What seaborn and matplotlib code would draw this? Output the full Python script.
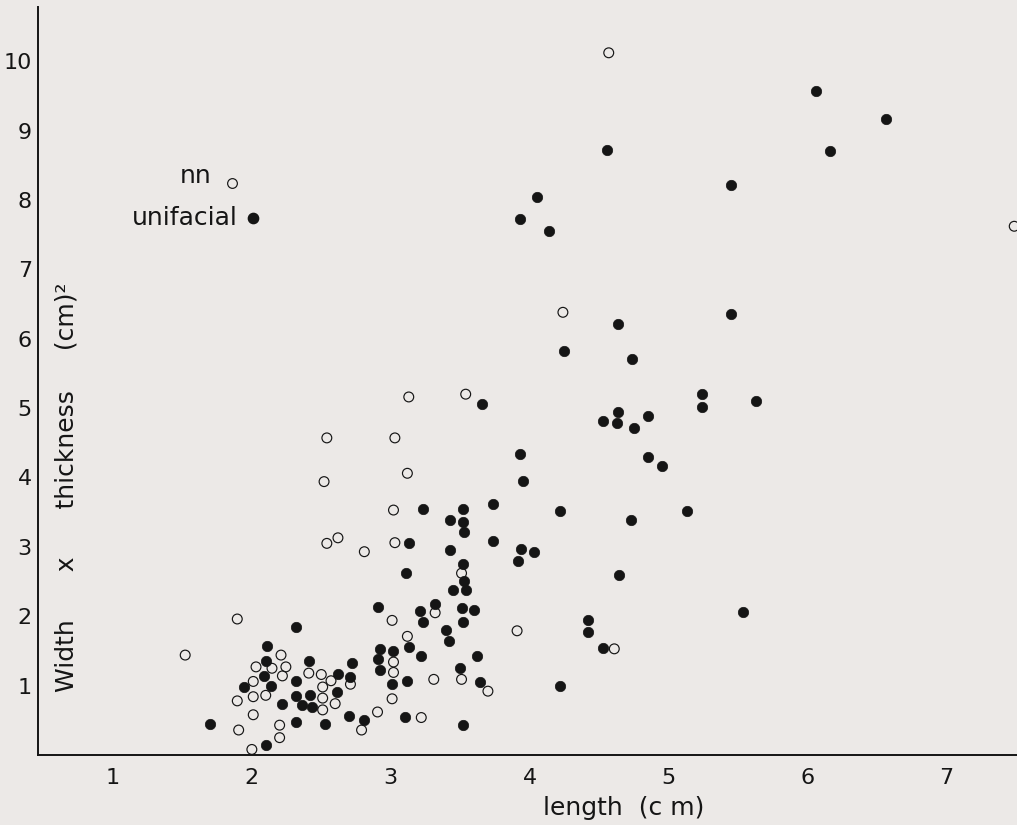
import matplotlib
matplotlib.use("Agg")
import matplotlib.pyplot as plt
import seaborn as sns

# Flake tools: length against width x thickness
nn_length = [1.52, 1.895, 1.895, 1.905, 2.00, 2.01, 2.01, 2.01, 2.03, 2.10,
             2.145, 2.20, 2.20, 2.21, 2.22, 2.245, 2.41, 2.50, 2.51, 2.51,
             2.51, 2.57, 2.60, 2.71, 2.79, 2.905, 3.01, 3.02, 3.02, 3.01,
             3.12, 3.22, 3.31, 3.32, 3.51, 3.51, 3.70, 3.91, 2.52, 2.54,
             2.62, 2.81, 3.03, 3.02, 3.12, 2.54, 3.03, 3.13, 3.54, 4.24,
             4.61, 4.57, 7.49]
nn_area = [1.44, 1.96, 0.78, 0.36, 0.08, 1.06, 0.84, 0.58, 1.27, 0.86,
           1.25, 0.43, 0.25, 1.44, 1.14, 1.27, 1.18, 1.16, 0.98, 0.82,
           0.65, 1.07, 0.74, 1.02, 0.36, 0.62, 1.94, 1.34, 1.19, 0.81,
           1.71, 0.54, 1.09, 2.05, 2.62, 1.09, 0.92, 1.79, 3.94, 3.05,
           3.13, 2.93, 3.06, 3.53, 4.06, 4.57, 4.57, 5.16, 5.20, 6.38,
           1.53, 10.12, 7.62]

uni_length = [1.70, 1.945, 2.09, 2.10, 2.11, 2.135, 2.10, 2.22, 2.32, 2.32,
              2.32, 2.32, 2.36, 2.41, 2.42, 2.43, 2.53, 2.61, 2.62, 2.70,
              2.71, 2.72, 2.81, 2.91, 2.92, 2.91, 2.92, 3.01, 3.02, 3.10,
              3.12, 3.13, 3.22, 3.23, 3.21, 3.32, 3.40, 3.42, 3.50, 3.52,
              3.51, 3.60, 3.62, 3.64, 3.52, 3.45, 3.54, 3.53, 3.52, 3.11,
              3.13, 3.43, 3.23, 3.43, 3.52, 3.53, 3.52, 3.74, 3.74, 3.92,
              3.94, 4.03, 3.95, 3.93, 3.66, 4.22, 4.22, 4.42, 4.42, 4.53,
              4.645, 4.73, 4.85, 4.95, 4.75, 4.63, 4.53, 4.64, 4.85, 5.13,
              5.24, 5.245, 5.63, 5.54, 4.245, 4.64, 4.74, 5.45, 3.93, 4.05,
              4.14, 4.56, 5.45, 6.16, 6.06, 6.57]
uni_area = [0.45, 0.98, 1.14, 1.35, 1.57, 1.00, 0.14, 0.74, 1.85, 1.07,
            0.85, 0.47, 0.72, 1.36, 0.86, 0.69, 0.44, 0.91, 1.17, 0.56,
            1.13, 1.33, 0.50, 2.14, 1.53, 1.38, 1.22, 1.02, 1.50, 0.55,
            1.06, 1.56, 1.42, 1.92, 2.08, 2.18, 1.80, 1.64, 1.26, 1.92,
            2.12, 2.09, 1.42, 1.05, 0.43, 2.38, 2.38, 2.51, 2.75, 2.63,
            3.05, 2.95, 3.54, 3.39, 3.36, 3.21, 3.55, 3.62, 3.08, 2.79,
            2.97, 2.92, 3.95, 4.34, 5.06, 3.52, 0.99, 1.94, 1.77, 1.54,
            2.60, 3.38, 4.30, 4.17, 4.71, 4.78, 4.82, 4.94, 4.89, 3.51,
            5.01, 5.20, 5.10, 2.06, 5.82, 6.21, 5.71, 6.36, 7.72, 8.04,
            7.55, 8.72, 8.21, 8.70, 9.57, 9.16]

x_ticks = [1, 2, 3, 4, 5, 6, 7]
y_ticks = [1, 2, 3, 4, 5, 6, 7, 8, 9, 10]

bg = "#ece9e7"
ink = "#151515"

sns.set_theme(style="white")
plt.rcParams["font.family"] = ["DejaVu Sans"]

fig = plt.figure(figsize=(10.17, 8.25), dpi=100, facecolor=bg)
ax = fig.add_axes([38 / 1017, 70 / 825, 979 / 1017, 748 / 825])
ax.set_facecolor(bg)

sns.scatterplot(x=nn_length, y=nn_area, ax=ax, s=50, facecolor="none",
                edgecolor=ink, linewidth=0.85, zorder=3, clip_on=True)
sns.scatterplot(x=uni_length, y=uni_area, ax=ax, s=56, color=ink,
                edgecolor=ink, linewidth=0.5, zorder=3)

ax.set_xlim(0.46, 7.51)
ax.set_ylim(0.0, 10.78)
ax.set_xticks(x_ticks)
ax.set_yticks(y_ticks)
ax.set_xticklabels([str(v) for v in x_ticks])
ax.set_yticklabels([str(v) for v in y_ticks])

for side in ("top", "right"):
    ax.spines[side].set_visible(False)
for side in ("left", "bottom"):
    ax.spines[side].set_color(ink)
    ax.spines[side].set_linewidth(1.4)

ax.tick_params(axis="both", direction="inout", length=5, width=1.0,
               color=ink, labelcolor=ink, labelsize=16)
ax.tick_params(axis="x", pad=7)
ax.tick_params(axis="y", pad=2)

ax.set_xlabel("length  (c m)", fontsize=18, color=ink, va="center")
ax.xaxis.set_label_coords(0.598, -0.071)
ax.set_ylabel("Width      x      thickness     (cm)²", fontsize=18,
              color=ink, va="center")
ax.yaxis.set_label_coords(0.0296, 0.358)

# key: label text followed by its symbol
ax.text(0.1777, 0.765, "nn", transform=ax.transAxes, ha="right",
        va="baseline", fontsize=18, color=ink)
ax.text(0.2043, 0.7086, "unifacial", transform=ax.transAxes, ha="right",
        va="baseline", fontsize=18, color=ink)
ax.plot([0.198], [0.7647], transform=ax.transAxes, marker="o", ms=7,
        mfc="none", mec=ink, mew=0.85, ls="none")
ax.plot([0.2193], [0.7175], transform=ax.transAxes, marker="o", ms=7.4,
        mfc=ink, mec=ink, ls="none")

fig.savefig("out.png", dpi=100, facecolor=bg)
